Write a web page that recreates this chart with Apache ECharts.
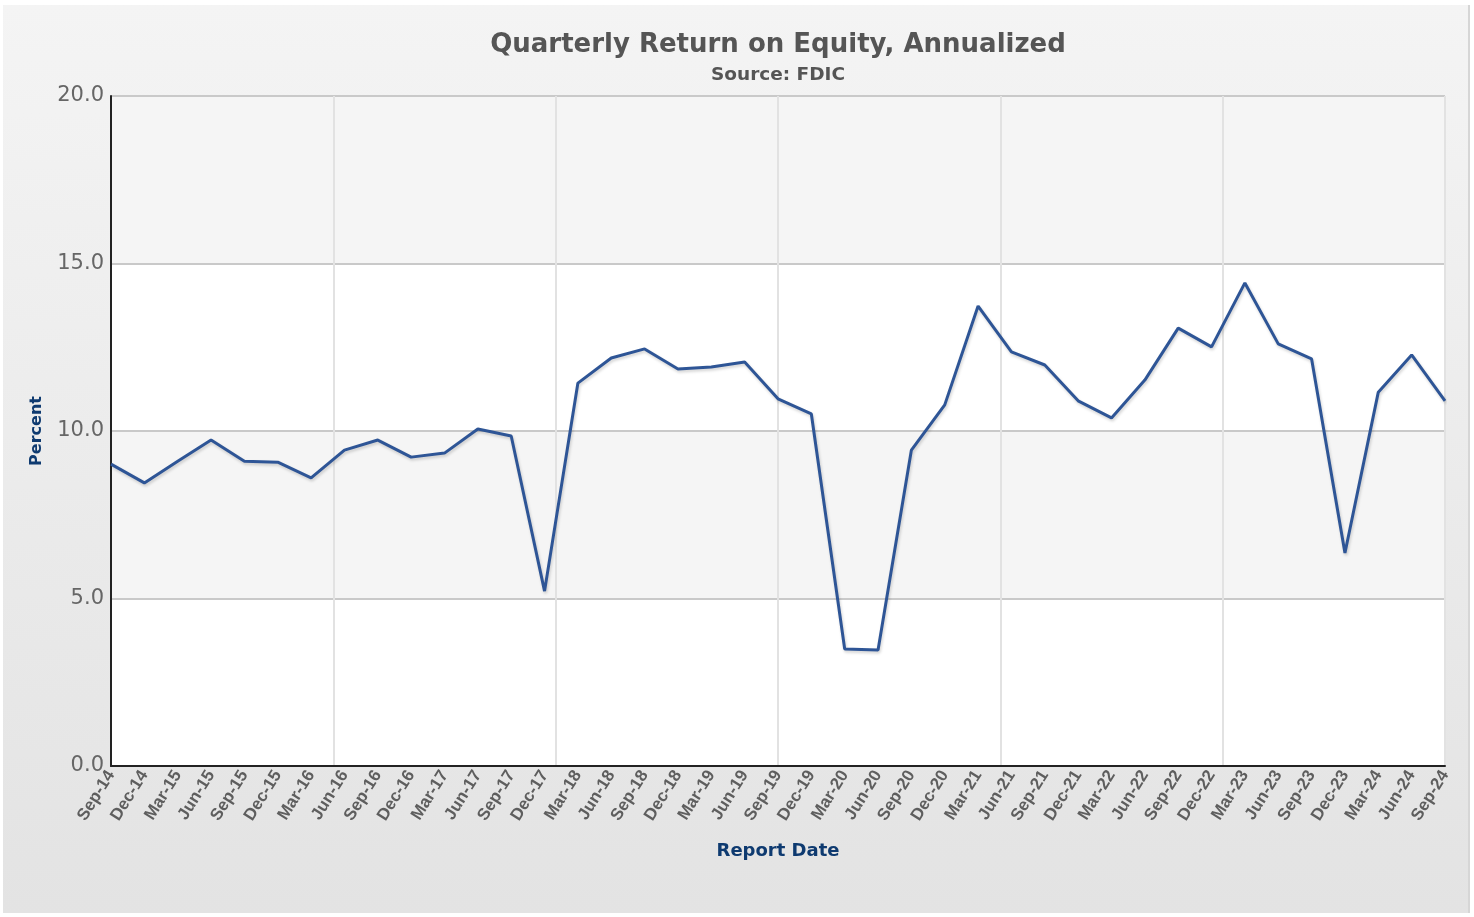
<!DOCTYPE html>
<html>
<head>
<meta charset="utf-8">
<script src="https://cdn.jsdelivr.net/npm/echarts@6/dist/echarts.min.js"></script>
<style>
  html, body { margin: 0; padding: 0; background: #fff; }
  #chart {
    position: absolute;
    left: 3px;
    top: 5px;
    width: 1465px;
    height: 908px;
    border-right: 2px solid #d6d6d6;
  }
</style>
</head>
<body>
<div id="chart"></div>
<script>
// quarterly report dates
const quarters = [
  'Sep-14', 'Dec-14', 'Mar-15', 'Jun-15', 'Sep-15', 'Dec-15', 'Mar-16', 'Jun-16',
  'Sep-16', 'Dec-16', 'Mar-17', 'Jun-17', 'Sep-17', 'Dec-17', 'Mar-18', 'Jun-18',
  'Sep-18', 'Dec-18', 'Mar-19', 'Jun-19', 'Sep-19', 'Dec-19', 'Mar-20', 'Jun-20',
  'Sep-20', 'Dec-20', 'Mar-21', 'Jun-21', 'Sep-21', 'Dec-21', 'Mar-22', 'Jun-22',
  'Sep-22', 'Dec-22', 'Mar-23', 'Jun-23', 'Sep-23', 'Dec-23', 'Mar-24', 'Jun-24',
  'Sep-24'
];

// return on equity, annualized (%)
const roe = [
  9.01, 8.45, 9.10, 9.73, 9.10, 9.07, 8.60, 9.43,
  9.73, 9.22, 9.34, 10.06, 9.85, 5.22, 11.43, 12.18,
  12.45, 11.85, 11.91, 12.06, 10.96, 10.51, 3.49, 3.46,
  9.43, 10.78, 13.73, 12.36, 11.97, 10.90, 10.39, 11.52,
  13.07, 12.51, 14.42, 12.60, 12.15, 6.36, 11.16, 12.27,
  10.90
];

const yTicks = [0, 5, 10, 15, 20];

const chart = echarts.init(document.getElementById('chart'));

const option = {
  backgroundColor: {
    type: 'linear', x: 0, y: 0, x2: 0, y2: 1,
    colorStops: [
      { offset: 0, color: '#f4f4f4' },
      { offset: 1, color: '#e3e3e3' }
    ]
  },
  animation: false,
  // title is centred over the plot area, not the whole canvas
  title: {
    text: 'Quarterly Return on Equity, Annualized',
    subtext: 'Source: FDIC',
    left: 770,
    textAlign: 'center',
    top: 22,
    itemGap: 8,
    textStyle: {
      fontFamily: 'DejaVu Sans',
      fontWeight: 'bold',
      fontSize: 26,
      color: '#555'
    },
    subtextStyle: {
      fontFamily: 'DejaVu Sans',
      fontWeight: 'bold',
      fontSize: 18.5,
      color: '#555'
    }
  },
  grid: {
    left: 108,
    right: 23,
    top: 91,
    bottom: 147,
    containLabel: false
  },
  xAxis: [
    {
      type: 'category',
      data: quarters,
      boundaryGap: false,
      name: 'Report Date',
      nameLocation: 'middle',
      nameGap: 76,
      nameTextStyle: {
        fontFamily: 'DejaVu Sans',
        fontWeight: 'bold',
        fontSize: 18,
        color: '#0e3a70'
      },
      axisLine: { lineStyle: { color: '#222', width: 2 } },
      axisTick: { show: false },
      axisLabel: {
        interval: 0,
        rotate: 58,
        margin: 6,
        fontFamily: 'Liberation Sans',
        fontWeight: 'bold',
        fontSize: 17,
        color: '#5e5e5e'
      },
      splitLine: { show: false }
    },
    {
      // evenly spaced vertical grid lines
      type: 'value',
      position: 'top',
      min: 0,
      max: quarters.length - 1,
      interval: (quarters.length - 1) / 6,
      axisLine: { show: false },
      axisTick: { show: false },
      axisLabel: { show: false },
      splitLine: { show: true, lineStyle: { color: '#e2e2e2', width: 2 } }
    }
  ],
  yAxis: {
    type: 'value',
    min: yTicks[0],
    max: yTicks[yTicks.length - 1],
    interval: 5,
    name: 'Percent',
    nameLocation: 'middle',
    nameGap: 66,
    nameTextStyle: {
      fontFamily: 'DejaVu Sans',
      fontWeight: 'bold',
      fontSize: 16,
      color: '#0e3a70'
    },
    axisLine: { show: true, lineStyle: { color: '#222', width: 2 } },
    axisTick: { show: false },
    axisLabel: {
      formatter: v => v.toFixed(1),
      fontFamily: 'DejaVu Sans',
      fontSize: 21,
      color: '#666',
      margin: 7
    },
    splitLine: { lineStyle: { color: '#c9c9c9', width: 2 } },
    splitArea: {
      show: true,
      areaStyle: { color: ['#ffffff', '#f5f5f5'] }
    }
  },
  series: [
    {
      name: 'ROE',
      type: 'line',
      data: roe,
      showSymbol: false,
      lineStyle: {
        color: '#2e5596',
        width: 3,
        shadowColor: 'rgba(0,0,0,0.18)',
        shadowBlur: 3,
        shadowOffsetX: 1,
        shadowOffsetY: 2
      },
      itemStyle: { color: '#2e5596' }
    }
  ]
};

chart.setOption(option);
window.addEventListener('resize', () => chart.resize());
</script>
</body>
</html>
